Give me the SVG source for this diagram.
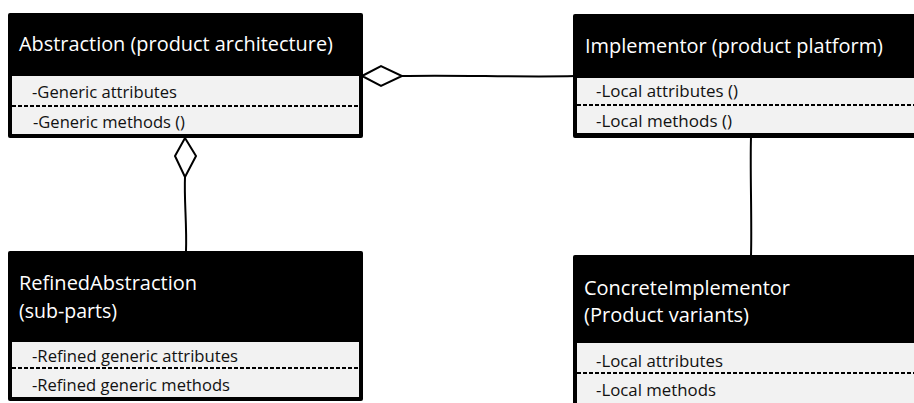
<svg xmlns="http://www.w3.org/2000/svg" width="914" height="403" viewBox="0 0 914 403">
  <style>
    .frame { fill: #000; }
    .body { fill: #f2f2f2; }
    .sep { stroke: #000; stroke-width: 2; stroke-dasharray: 4 2; fill: none; }
    .title { font-family: "Open Sans", "Liberation Sans", sans-serif; font-size: 20px; fill: #fff; }
    .member { font-family: "Open Sans", "Liberation Sans", sans-serif; font-size: 15.5px; fill: #111; }
    .link { stroke: #000; stroke-width: 2; fill: none; }
    .agg { stroke: #000; stroke-width: 2; fill: #fff; stroke-linejoin: miter; }
  </style>
  <rect width="914" height="403" fill="#fff"/>

  <g id="connectors">
    <!-- Abstraction aggregates Implementor -->
    <path class="link" d="M402,76 C450,74.5 520,77.5 575,76"/>
    <polygon class="agg" points="362,76 381,66 402,76 381,86"/>
    <!-- Abstraction aggregates RefinedAbstraction -->
    <path class="link" d="M185,177 C184,200 187,225 186,251"/>
    <polygon class="agg" points="185,138 196,156 185,177 175,156"/>
    <!-- Implementor to ConcreteImplementor -->
    <path class="link" d="M751,137 C750,170 752,220 751,256"/>
  </g>

  <g id="abstraction">
    <rect class="frame" x="8" y="13" width="355" height="125" rx="2"/>
    <rect class="body" x="12" y="76" width="347" height="58"/>
    <line class="sep" x1="12" y1="106" x2="359" y2="106"/>
    <text class="title" x="19" y="51" textLength="314" lengthAdjust="spacingAndGlyphs">Abstraction (product architecture)</text>
    <text class="member" x="32" y="98" textLength="145" lengthAdjust="spacingAndGlyphs">-Generic attributes</text>
    <text class="member" x="33" y="128" textLength="152" lengthAdjust="spacingAndGlyphs">-Generic methods ()</text>
  </g>

  <g id="implementor">
    <rect class="frame" x="573" y="14" width="360" height="124" rx="2"/>
    <rect class="body" x="577" y="78" width="340" height="55"/>
    <line class="sep" x1="577" y1="105" x2="914" y2="105"/>
    <text class="title" x="585" y="53" textLength="298" lengthAdjust="spacingAndGlyphs">Implementor (product platform)</text>
    <text class="member" x="596" y="97" textLength="142" lengthAdjust="spacingAndGlyphs">-Local attributes ()</text>
    <text class="member" x="596" y="127" textLength="136" lengthAdjust="spacingAndGlyphs">-Local methods ()</text>
  </g>

  <g id="refined-abstraction">
    <rect class="frame" x="8" y="251" width="355" height="150" rx="2"/>
    <rect class="body" x="12" y="342" width="347" height="55"/>
    <line class="sep" x1="12" y1="368" x2="359" y2="368"/>
    <text class="title" x="19" y="290" textLength="178" lengthAdjust="spacingAndGlyphs">RefinedAbstraction</text>
    <text class="title" x="19" y="318" textLength="98" lengthAdjust="spacingAndGlyphs">(sub-parts)</text>
    <text class="member" x="32" y="362" textLength="206" lengthAdjust="spacingAndGlyphs">-Refined generic attributes</text>
    <text class="member" x="32" y="391" textLength="198" lengthAdjust="spacingAndGlyphs">-Refined generic methods</text>
  </g>

  <g id="concrete-implementor">
    <rect class="frame" x="573" y="255" width="360" height="160" rx="2"/>
    <rect class="body" x="577" y="343" width="340" height="70"/>
    <line class="sep" x1="577" y1="373" x2="914" y2="373"/>
    <text class="title" x="584" y="295" textLength="206" lengthAdjust="spacingAndGlyphs">ConcreteImplementor</text>
    <text class="title" x="584" y="322" textLength="165" lengthAdjust="spacingAndGlyphs">(Product variants)</text>
    <text class="member" x="596" y="367" textLength="127" lengthAdjust="spacingAndGlyphs">-Local attributes</text>
    <text class="member" x="596" y="396" textLength="120" lengthAdjust="spacingAndGlyphs">-Local methods</text>
  </g>
</svg>
